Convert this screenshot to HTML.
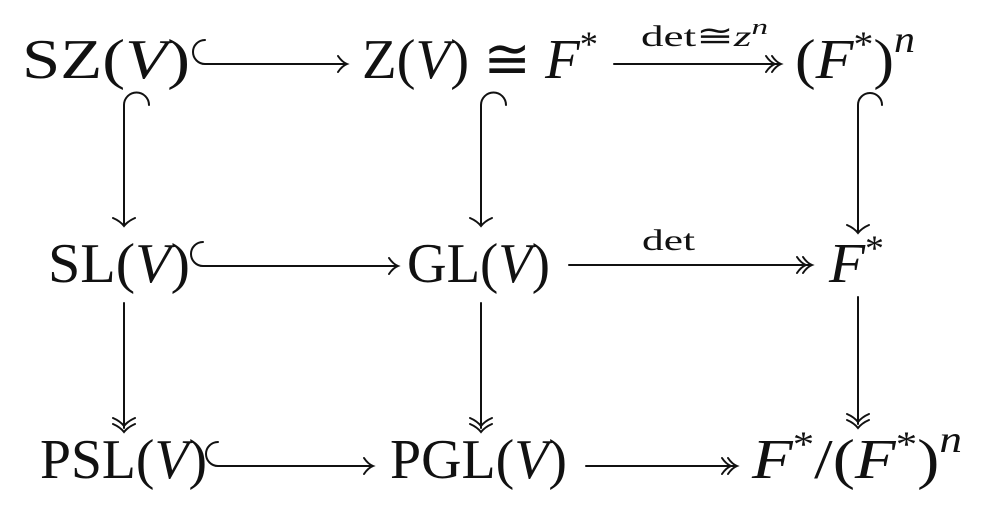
<!DOCTYPE html>
<html><head><meta charset="utf-8"><style>
html,body{margin:0;padding:0;background:#fff}
svg{display:block}
text{font-family:"Liberation Serif",serif;fill:#111}
.i{font-style:italic}
</style></head><body>
<svg width="987" height="512" viewBox="0 0 987 512" xmlns="http://www.w3.org/2000/svg">
<g font-size="56">
<text x="22" y="78" textLength="168" lengthAdjust="spacingAndGlyphs">SZ(<tspan class="i">V</tspan>)</text>
<text x="362" y="78" textLength="236" lengthAdjust="spacingAndGlyphs">Z(<tspan class="i">V</tspan>) ≅ <tspan class="i">F</tspan><tspan font-size="36" dy="-22">*</tspan></text>
<text x="795" y="78" textLength="120" lengthAdjust="spacingAndGlyphs">(<tspan class="i">F</tspan><tspan font-size="36" dy="-22">*</tspan><tspan dy="22">)</tspan><tspan class="i" font-size="38" dy="-26">n</tspan></text>

<text x="48" y="282" textLength="142" lengthAdjust="spacingAndGlyphs">SL(<tspan class="i">V</tspan>)</text>
<text x="407" y="282" textLength="143" lengthAdjust="spacingAndGlyphs">GL(<tspan class="i">V</tspan>)</text>
<text x="829" y="282" class="i" textLength="55" lengthAdjust="spacingAndGlyphs">F<tspan font-size="36" dy="-22" style="font-style:normal">*</tspan></text>

<text x="40" y="478" textLength="167" lengthAdjust="spacingAndGlyphs">PSL(<tspan class="i">V</tspan>)</text>
<text x="390" y="478" textLength="177" lengthAdjust="spacingAndGlyphs">PGL(<tspan class="i">V</tspan>)</text>
<text x="752" y="478" textLength="210" lengthAdjust="spacingAndGlyphs"><tspan class="i">F</tspan><tspan font-size="36" dy="-22">*</tspan><tspan dy="22">/(</tspan><tspan class="i">F</tspan><tspan font-size="36" dy="-22">*</tspan><tspan dy="22">)</tspan><tspan class="i" font-size="38" dy="-26">n</tspan></text>
</g>
<g font-size="30">
<text x="641" y="46" textLength="127" lengthAdjust="spacingAndGlyphs">det≅<tspan class="i">z</tspan><tspan class="i" font-size="22" dy="-12">n</tspan></text>
<text x="642" y="250" textLength="53" lengthAdjust="spacingAndGlyphs">det</text>
</g>
<g stroke="#111" stroke-width="2" fill="none" stroke-linecap="round">
<path d="M205,40 A12,12 0 0 0 205,64 L346,64"/>
<path d="M338,56 Q342,62 347,64 Q342,66 338,72"/>
<path d="M614,64 L778,64"/>
<path d="M766,56 Q770,62 775,64 Q770,66 766,72 M772,56 Q776,62 781,64 Q776,66 772,72"/>
<path d="M203,242 A12,12 0 0 0 203,266 L397,266"/>
<path d="M389,258 Q393,264 398,266 Q393,268 389,274"/>
<path d="M569,265 L810,265"/>
<path d="M797,257 Q801,263 806,265 Q801,267 797,273 M803,257 Q807,263 812,265 Q807,267 803,273"/>
<path d="M218,442 A12,12 0 0 0 218,466 L372,466"/>
<path d="M364,458 Q368,464 373,466 Q368,468 364,474"/>
<path d="M586,466 L734,466"/>
<path d="M722,458 Q726,464 731,466 Q726,468 722,474 M728,458 Q732,464 737,466 Q732,468 728,474"/>
<path d="M149,105 A12.5,12.5 0 0 0 124,105 L124,225"/>
<path d="M113,218 Q120,221 124,226 Q128,221 135,218"/>
<path d="M124,303 L124,428"/>
<path d="M113,418 Q120,421 124,426 Q128,421 135,418 M113,424 Q120,427 124,432 Q128,427 135,424"/>
<path d="M506,105 A12.5,12.5 0 0 0 481,105 L481,225"/>
<path d="M470,218 Q477,221 481,226 Q485,221 492,218"/>
<path d="M481,303 L481,428"/>
<path d="M470,418 Q477,421 481,426 Q485,421 492,418 M470,424 Q477,427 481,432 Q485,427 492,424"/>
<path d="M882,105 A12,12 0 0 0 858,105 L858,232"/>
<path d="M847,225 Q854,228 858,233 Q862,228 869,225"/>
<path d="M858,297 L858,424"/>
<path d="M847,414 Q854,417 858,422 Q862,417 869,414 M847,420 Q854,423 858,428 Q862,423 869,420"/>
</g>
</svg>
</body></html>
